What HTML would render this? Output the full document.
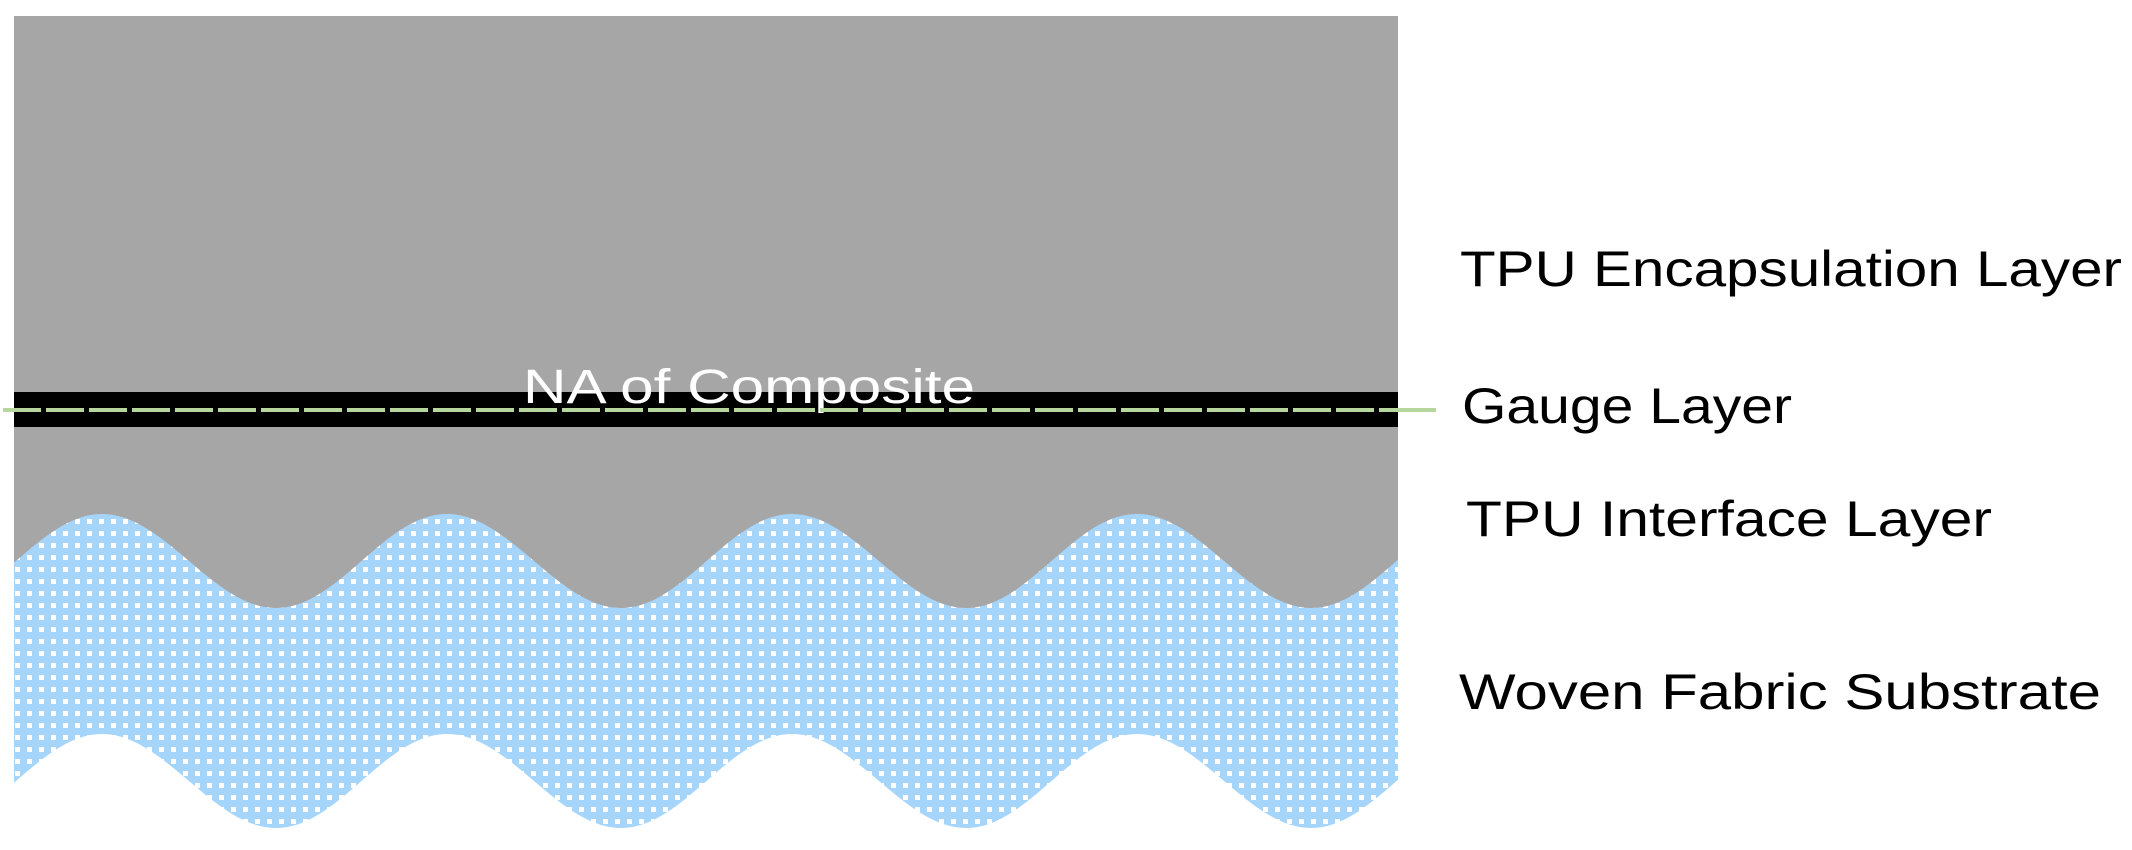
<!DOCTYPE html>
<html><head><style>html,body{margin:0;padding:0;background:#fff}svg{display:block}</style></head>
<body>
<svg width="2132" height="850" viewBox="0 0 2132 850" xmlns="http://www.w3.org/2000/svg">
<defs>
<pattern id="fab" width="12" height="12" patternUnits="userSpaceOnUse">
<rect width="12" height="12" fill="#a6d5fc"/>
<rect x="3" y="3" width="5" height="5" fill="#ffffff"/>
</pattern>
<clipPath id="c"><rect x="14" y="0" width="1384" height="850"/></clipPath>
</defs>
<rect x="14" y="16" width="1384" height="600" fill="#a6a6a6"/>
<g clip-path="url(#c)">
<path fill="url(#fab)" d="M-70,608 C-7,608 39,514 102,514 C165,514 213,608 276,608 C339,608 384,514 447,514 C510,514 558,608 621,608 C684,608 729,514 792,514 C855,514 903,608 966,608 C1029,608 1074,514 1137,514 C1200,514 1248,608 1311,608 C1374,608 1419,514 1482,514
L1482,734 C1419,734 1374,828 1311,828 C1248,828 1200,734 1137,734 C1074,734 1029,828 966,828 C903,828 855,734 792,734 C729,734 684,828 621,828 C558,828 510,734 447,734 C384,734 339,828 276,828 C213,828 165,734 102,734 C39,734 -7,828 -70,828 Z"/>
</g>
<rect x="14" y="392" width="1384" height="35" fill="#000"/>
<text x="749" y="403" text-anchor="middle" font-family="Liberation Sans, sans-serif" font-size="48" fill="#fff" textLength="452" lengthAdjust="spacingAndGlyphs">NA of Composite</text>
<line x1="3" y1="410" x2="1398" y2="410" stroke="#b7d69e" stroke-width="4" stroke-dasharray="38 5"/>
<line x1="1398" y1="410" x2="1436" y2="410" stroke="#b7d69e" stroke-width="4"/>
<g font-family="Liberation Sans, sans-serif" font-size="50" fill="#000">
<text x="1460" y="286" textLength="662" lengthAdjust="spacingAndGlyphs">TPU Encapsulation Layer</text>
<text x="1462" y="423" textLength="330" lengthAdjust="spacingAndGlyphs">Gauge Layer</text>
<text x="1466" y="536" textLength="526" lengthAdjust="spacingAndGlyphs">TPU Interface Layer</text>
<text x="1459" y="709" textLength="642" lengthAdjust="spacingAndGlyphs">Woven Fabric Substrate</text>
</g>
</svg>
</body></html>
